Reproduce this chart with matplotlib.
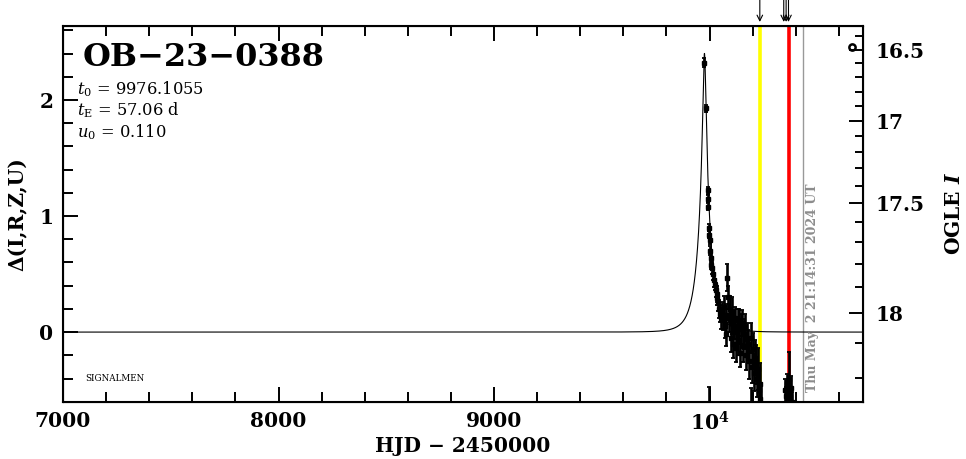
import matplotlib.pyplot as plt
import numpy as np
from matplotlib.ticker import FixedLocator, MultipleLocator

plt.rcParams['font.family'] = ['DejaVu Serif']
plt.rcParams['mathtext.fontset'] = 'dejavuserif'

# параметры модели (подписаны на графике)
event_name = "OB\u221223\u22120388"
t0 = 9976.1055
tE = 57.06
u0 = 0.110

# базовая звездная величина OGLE и доля потока источника (для правой оси)
I_base = 18.065
f_source = 0.384

# наблюдения: HJD - 2450000, Delta, ошибка
hjd = [9972, 9983, 9991, 9992, 9993, 9998, 9999, 10000, 10003, 10005,
       10008, 10012, 10016, 10020, 10024, 10028, 10032, 10036, 10040, 10044,
       10048, 10052, 10056, 10062, 10066, 10070, 10074, 10078, 10083, 10086,
       10090, 10094, 10098, 10102, 10106, 10110, 10114, 10118, 10122, 10126,
       10130, 10134, 10138, 10142, 10146, 10150, 10155, 10160, 10165, 10170,
       10175, 10180, 10185, 10190, 10195, 10200, 10205, 10210, 10215, 10220,
       10225, 10228, 10232, 10236, 10238, 9999, 10192,
       10352, 10356, 10360, 10364, 10367, 10370, 10374, 10378, 10382, 10396]
delta = [2.32, 1.93, 1.22, 1.15, 1.08, 0.90, 0.84, 0.79, 0.70, 0.64,
         0.58, 0.55, 0.50, 0.45, 0.41, 0.36, 0.33, 0.29, 0.25, 0.20,
         0.16, 0.12, 0.18, 0.10, 0.22, 0.05, 0.15, -0.02, 0.47, 0.30,
         0.12, 0.20, -0.05, 0.08, 0.18, -0.10, 0.05, 0.12, -0.14, 0.00,
         0.10, -0.08, 0.06, -0.18, 0.03, 0.08, -0.12, -0.02, 0.04, -0.20,
         -0.06, -0.10, -0.25, -0.05, -0.30, -0.15, -0.35, -0.22, -0.28, -0.40,
         -0.32, -0.50, -0.45, -0.58, -0.62, -0.72, -0.70,
         -0.50, -0.55, -0.45, -0.52, -0.40, -0.50, -0.56, -0.48, -0.60, -0.66]
delta_err = [0.04, 0.03, 0.03, 0.03, 0.03, 0.03, 0.03, 0.03, 0.04, 0.04,
             0.04, 0.05, 0.05, 0.06, 0.05, 0.06, 0.07, 0.06, 0.07, 0.08,
             0.07, 0.09, 0.08, 0.08, 0.09, 0.10, 0.09, 0.10, 0.12, 0.10,
             0.12, 0.11, 0.12, 0.10, 0.12, 0.12, 0.11, 0.10, 0.12, 0.13,
             0.10, 0.12, 0.14, 0.12, 0.13, 0.11, 0.14, 0.13, 0.12, 0.13,
             0.14, 0.12, 0.15, 0.13, 0.14, 0.14, 0.16, 0.15, 0.17, 0.16,
             0.18, 0.15, 0.18, 0.14, 0.18, 0.25, 0.22,
             0.10, 0.08, 0.09, 0.10, 0.23, 0.08, 0.09, 0.10, 0.08, 0.06]

# отдельная точка справа вверху
extra_hjd = [10662]
extra_delta = [2.46]

# вертикальные линии и стрелки
yellow_hjd = 10233
red_hjd = 10367
now_hjd = 10433.4
now_text = "Thu May  2 21:14:31 2024 UT"
arrow_hjd = [10233, 10344, 10355, 10366]

# оси
xlim = (7000, 10710)
ylim = (-0.60, 2.64)
x_ticks = [7000, 8000, 9000, 10000]
x_labels = ["7000", "8000", "9000", "$\\mathbf{10^4}$"]
y_ticks = [0, 1, 2]
ogle_major = [16.5, 17.0, 17.5, 18.0]
ogle_labels = ["16.5", "17", "17.5", "18"]
ogle_minor = [16.4, 16.6, 16.7, 16.8, 16.9, 17.1, 17.2, 17.3, 17.4,
              17.6, 17.7, 17.8, 17.9, 18.1, 18.2]


def mag_to_delta(m):
    """
    переводит звездную величину OGLE I в Delta = 2.5 lg A
    """
    flux = 10 ** (-0.4 * (np.asarray(m) - I_base))
    return 2.5 * np.log10(1 + (flux - 1) / f_source)


# модель PSPL
t_model = np.linspace(xlim[0], xlim[1], 6000)
u = np.sqrt(u0 ** 2 + ((t_model - t0) / tE) ** 2)
A = (u ** 2 + 2) / (u * np.sqrt(u ** 2 + 4))
delta_model = 2.5 * np.log10(A)

fig = plt.figure(figsize=(9.66, 4.59), dpi=100)
ax = fig.add_axes([0.0652, 0.1248, 0.8278, 0.8192])

ax.plot(t_model, delta_model, color="black", lw=0.8, zorder=3)
ax.axvline(yellow_hjd, color="#ffff00", lw=2.6, zorder=2)
ax.axvline(red_hjd, color="#ff0000", lw=2.6, zorder=2)
ax.axvline(now_hjd, color="#999999", lw=1.0, zorder=2)

ax.errorbar(hjd, delta, yerr=delta_err, fmt="s", color="black", ms=2.2,
            elinewidth=1.9, capsize=1.4, capthick=1.3, zorder=4)
ax.plot(extra_hjd, extra_delta, "o", mfc="none", mec="black", ms=4.5, mew=1.8)

# стрелки над графиком
for t in arrow_hjd:
    ax.annotate("", xy=(t, 1.01), xycoords=("data", "axes fraction"),
                xytext=(t, 1.07), textcoords=("data", "axes fraction"),
                arrowprops=dict(arrowstyle="->", color="black", lw=0.8,
                                shrinkA=0, shrinkB=0), annotation_clip=False)

ax.text(now_hjd + 45, -0.52, now_text, rotation=90, color="#8c8c8c",
        fontsize=9, fontweight="bold", ha="center", va="bottom")

# подписи
ax.text(0.024, 0.915, event_name, transform=ax.transAxes, fontsize=23,
        fontweight="bold", va="center", ha="left")
ax.text(0.017, 0.83, "$t_0$ = 9976.1055", transform=ax.transAxes,
        fontsize=11.7, va="center")
ax.text(0.017, 0.775, "$t_{\\rm E}$ = 57.06 d", transform=ax.transAxes,
        fontsize=11.7, va="center")
ax.text(0.017, 0.718, "$u_0$ = 0.110", transform=ax.transAxes,
        fontsize=11.7, va="center")
ax.text(0.028, 0.062, "SIGNALMEN", transform=ax.transAxes, fontsize=6.3,
        va="center")

ax.set_xlim(xlim)
ax.set_ylim(ylim)
ax.set_xticks(x_ticks)
ax.set_xticklabels(x_labels)
ax.xaxis.set_minor_locator(MultipleLocator(200))
ax.set_yticks(y_ticks)
ax.yaxis.set_minor_locator(MultipleLocator(0.2))
ax.tick_params(which="both", direction="in", top=True, right=False, width=1.4)
ax.tick_params(which="major", length=11, labelsize=14.5, pad=7)
ax.tick_params(which="minor", length=7)
for lab in ax.get_xticklabels() + ax.get_yticklabels():
    lab.set_fontweight("bold")
for sp in ax.spines.values():
    sp.set_linewidth(1.5)

ax.set_xlabel("HJD \u2212 2450000", fontsize=14.5, fontweight="bold", labelpad=1)
ax.set_ylabel("\u0394(I,R,Z,U)", fontsize=14.5, fontweight="bold", labelpad=8)

# правая ось OGLE I
ax2 = ax.twinx()
ax2.set_ylim(ylim)
ax2.yaxis.set_major_locator(FixedLocator(mag_to_delta(ogle_major)))
ax2.yaxis.set_minor_locator(FixedLocator(mag_to_delta(ogle_minor)))
ax2.set_yticklabels(ogle_labels)
ax2.tick_params(which="both", direction="in", width=1.4)
ax2.tick_params(which="major", length=10, labelsize=14.5, pad=9)
ax2.tick_params(which="minor", length=6)
for lab in ax2.get_yticklabels():
    lab.set_fontweight("bold")
ax2.set_ylabel("OGLE $\\mathbfit{I}$", fontsize=14.5, fontweight="bold",
               labelpad=14)

fig.savefig("out.png", dpi=100)
